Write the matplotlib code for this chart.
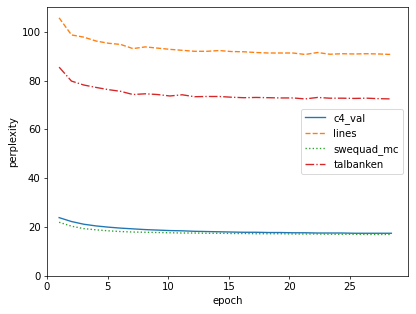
import matplotlib
matplotlib.use("Agg")
import matplotlib.pyplot as plt

epochs = [1.0, 2.02, 3.03, 4.05, 5.06, 6.08, 7.09, 8.11, 9.12, 10.14, 11.15, 12.17, 13.18, 14.2,
          15.21, 16.23, 17.24, 18.26, 19.27, 20.29, 21.3, 22.32, 23.33, 24.35, 25.36, 26.38, 27.39, 28.41]
c4_val = [23.9, 22.3, 21.2, 20.5, 20.0, 19.6, 19.3, 19.0, 18.8, 18.6, 18.5, 18.3, 18.2, 18.1,
          18.0, 17.9, 17.9, 17.8, 17.8, 17.7, 17.7, 17.6, 17.6, 17.6, 17.5, 17.5, 17.5, 17.5]
lines = [105.7, 98.7, 97.8, 96.2, 95.3, 94.8, 93.1, 93.8, 93.3, 92.8, 92.4, 92.0, 92.0, 92.3,
         91.9, 91.8, 91.5, 91.3, 91.3, 91.3, 90.7, 91.5, 90.8, 91.0, 90.9, 91.0, 90.9, 90.7]
swequad_mc = [22.0, 20.4, 19.4, 18.9, 18.5, 18.2, 18.0, 17.9, 17.8, 17.7, 17.6, 17.6, 17.5, 17.5,
              17.4, 17.4, 17.3, 17.3, 17.3, 17.2, 17.2, 17.2, 17.1, 17.1, 17.1, 17.0, 17.0, 17.0]
talbanken = [85.5, 79.8, 78.2, 77.2, 76.3, 75.6, 74.3, 74.6, 74.3, 73.7, 74.2, 73.4, 73.5, 73.5,
             73.2, 73.0, 73.1, 73.0, 72.9, 72.9, 72.5, 73.1, 72.8, 72.8, 72.7, 72.8, 72.6, 72.5]

plt.rcParams["font.size"] = 11.2
dpi = 65
fig = plt.figure(figsize=(416/dpi, 314/dpi), dpi=dpi)
ax = fig.add_axes([47/416, 1 - 276/314, (408-47)/416, (276-7)/314])
ax.plot(epochs, c4_val, color="#1f77b4", linestyle="-", label="c4_val")
ax.plot(epochs, lines, color="#ff7f0e", linestyle="--", label="lines")
ax.plot(epochs, swequad_mc, color="#2ca02c", linestyle=":", label="swequad_mc")
ax.plot(epochs, talbanken, color="#d62728", linestyle="-.", label="talbanken")
ax.set_xlim(left=0)
ax.set_ylim(bottom=0)
ax.set_xlabel("epoch")
ax.set_ylabel("perplexity")
ax.legend(loc="center right")
fig.savefig("out.png", dpi=dpi)
